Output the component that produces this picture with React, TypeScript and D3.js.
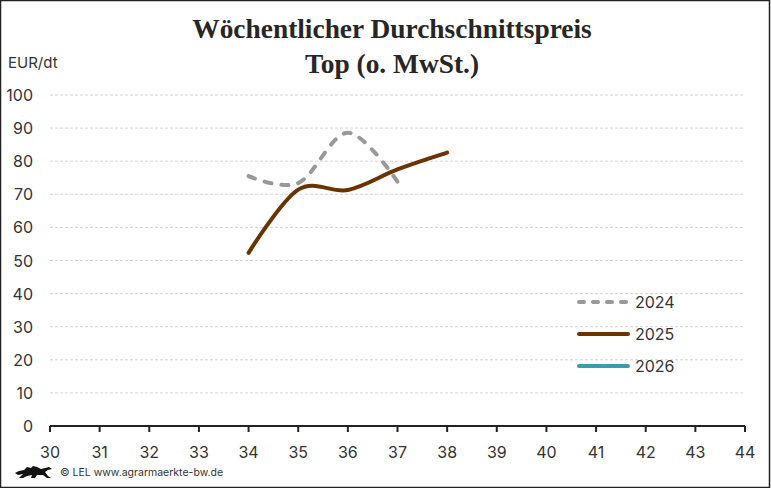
import React from "react";
import * as d3 from "d3";

const weeks = [30, 31, 32, 33, 34, 35, 36, 37, 38, 39, 40, 41, 42, 43, 44];
const yTicks = [0, 10, 20, 30, 40, 50, 60, 70, 80, 90, 100];
const weeks2024 = [34, 35, 36, 37];
const values2024 = [75.5, 73.4, 88.6, 73.8];
const weeks2025 = [34, 35, 36, 37, 38];
const values2025 = [52.3, 71.4, 71.3, 77.5, 82.6];
const weeks2026: number[] = [];
const values2026: number[] = [];
const seriesNames = ["2024", "2025", "2026"];
const seriesColors = ["#999999", "#6B3300", "#3A9DAE"];
const titleLines = ["Wöchentlicher Durchschnittspreis", "Top (o. MwSt.)"];

const W = 771, H = 488;
const x = d3.scaleLinear().domain([30, 44]).range([50, 745]);
const y = d3.scaleLinear().domain([0, 100]).range([426, 95]);
const line = d3.line<[number, number]>().x(d => x(d[0])).y(d => y(d[1])).curve(d3.curveCatmullRom.alpha(0));

function zip(a: number[], b: number[]): [number, number][] {
  return a.map((v, i) => [v, b[i]]);
}

const sans = "Inter, Roboto, 'Noto Sans', sans-serif";

export default function App() {
  const series = [zip(weeks2024, values2024), zip(weeks2025, values2025), zip(weeks2026, values2026)];
  return (
    <svg width={W} height={H} style={{ position: "fixed", left: 0, top: 0, background: "#fff" }}>
      <rect x={0.5} y={0.5} width={W - 2} height={H - 1} fill="#fff" stroke="#222" strokeWidth={1.5} />
      {titleLines.map((t, i) => (
        <text key={i} x={392} y={38 + i * 35} textAnchor="middle" fontFamily="'Liberation Serif', 'DejaVu Serif', serif" fontWeight="bold" fontSize={27.4} fill="#262626">{t}</text>
      ))}
      <text x={8} y={68} fontFamily={sans} fontSize={15} fill="#333">EUR/dt</text>
      {yTicks.map(t => (
        <g key={t}>
          {t > 0 && <line x1={50} x2={745} y1={y(t)} y2={y(t)} stroke="#d4d4d4" strokeWidth={1} strokeDasharray="3,2" />}
          <text x={33} y={y(t) + 6} textAnchor="end" fontFamily={sans} fontSize={16} fill="#333">{t}</text>
        </g>
      ))}
      <line x1={x(30)} x2={x(44)} y1={y(0)} y2={y(0)} stroke="#222" strokeWidth={2} />
      {weeks.map(w => (
        <g key={w}>
          <line x1={x(w)} x2={x(w)} y1={y(0)} y2={y(0) + 6} stroke="#222" strokeWidth={2} />
          <text x={x(w)} y={458} textAnchor="middle" fontFamily={sans} fontSize={16} fill="#333">{w}</text>
        </g>
      ))}
      {series.map((s, i) => s.length > 1 && (
        <path key={i} d={line(s) || ""} fill="none" stroke={seriesColors[i]} strokeWidth={4}
          strokeLinecap="round" strokeDasharray={i === 0 ? "7,10" : undefined} />
      ))}
      {seriesNames.map((n, i) => (
        <g key={n}>
          <line x1={579} x2={628} y1={302 + i * 32} y2={302 + i * 32} stroke={seriesColors[i]} strokeWidth={4}
            strokeLinecap="round" strokeDasharray={i === 0 ? "5,9" : undefined} />
          <text x={635} y={308 + i * 32} fontFamily={sans} fontSize={16} fill="#333">{n}</text>
        </g>
      ))}
      <g transform="translate(15,464)" fill="#111">
        <path d="M0,9 L4,7 L9,6 L12,3 L16,4 L18,2 L22,3 L26,5 L30,4 L34,3 L37,5 L33,6 L30,8 L33,12 L36,14 L32,14 L28,11 L22,11 L20,14 L16,14 L17,11 L12,12 L8,14 L4,14 L8,10 L3,11 Z" />
      </g>
      <text x={60} y={476} fontFamily={sans} fontSize={10.5} fill="#333">© LEL www.agrarmaerkte-bw.de</text>
    </svg>
  );
}
